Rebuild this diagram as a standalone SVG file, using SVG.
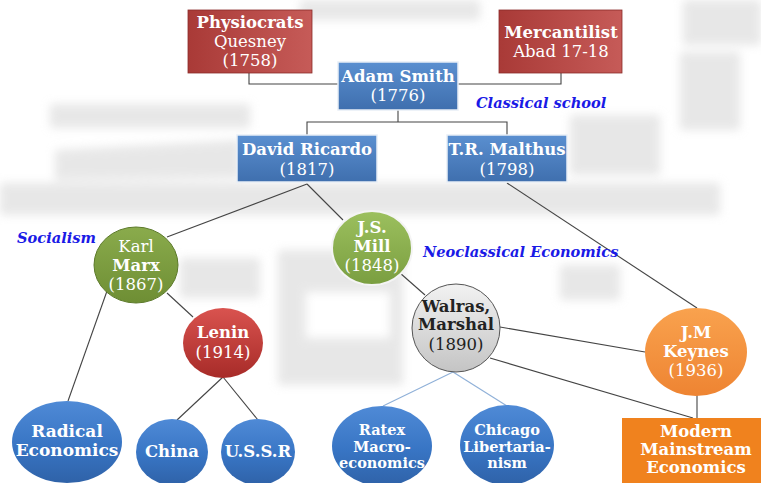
<svg xmlns="http://www.w3.org/2000/svg" width="761" height="483" viewBox="0 0 761 483">
<defs>
<filter id="soft" x="-10%" y="-10%" width="120%" height="120%"><feGaussianBlur stdDeviation="5"/></filter>
<linearGradient id="gRed" x1="0" y1="0" x2="1" y2="0"><stop offset="0" stop-color="#a93a37"/><stop offset="1" stop-color="#c65b58"/></linearGradient>
<linearGradient id="gBlueBox" x1="0" y1="0" x2="0" y2="1"><stop offset="0" stop-color="#5a8fd0"/><stop offset="1" stop-color="#3f6fae"/></linearGradient>
<linearGradient id="gBlueOv" x1="0" y1="0" x2="0" y2="1"><stop offset="0" stop-color="#4f8ad6"/><stop offset="0.55" stop-color="#3875c4"/><stop offset="1" stop-color="#2f62a8"/></linearGradient>
<linearGradient id="gGreen" x1="0" y1="0" x2="0" y2="1"><stop offset="0" stop-color="#8aab4c"/><stop offset="1" stop-color="#6e8e34"/></linearGradient>
<linearGradient id="gGreen2" x1="0" y1="0" x2="0" y2="1"><stop offset="0" stop-color="#9cc05e"/><stop offset="1" stop-color="#7a9e40"/></linearGradient>
<linearGradient id="gRedC" x1="0" y1="0" x2="0" y2="1"><stop offset="0" stop-color="#d9534f"/><stop offset="1" stop-color="#a72b28"/></linearGradient>
<linearGradient id="gGray" x1="0" y1="0" x2="0" y2="1"><stop offset="0" stop-color="#f2f2f2"/><stop offset="1" stop-color="#c4c4c4"/></linearGradient>
<linearGradient id="gOrange" x1="0" y1="0" x2="0" y2="1"><stop offset="0" stop-color="#f9a24e"/><stop offset="1" stop-color="#ee8432"/></linearGradient>
</defs>
<style>
text{font-family:"DejaVu Serif","Liberation Serif",serif;text-anchor:middle;fill:#fff;font-size:16.5px}
.b{font-weight:bold}
.dk{fill:#222}
.sm{font-size:14.5px}
.lg{font-size:17px}
.lbl{font-family:"DejaVu Serif","Liberation Serif",serif;font-weight:bold;font-style:italic;fill:#1a1ae6;text-anchor:start;font-size:14.6px}
.con line,.con polyline{stroke:#444;stroke-width:1.1;fill:none}
.con .lb{stroke:#8fb0d8}
.wm path,.wm rect{fill:#d0d0d0}
</style>
<g class="wm" id="watermark" opacity="0.5" filter="url(#soft)">
<rect x="0" y="183" width="720" height="32"/>
<rect x="50" y="104" width="200" height="24"/>
<path d="M55 150 L240 140 L240 178 L55 180 Z"/>
<path fill-rule="evenodd" d="M278 250 H403 V385 H278 Z M306 292 H390 V338 H306 Z"/>
<rect x="180" y="258" width="80" height="40"/>
<rect x="683" y="0" width="78" height="45"/>
<rect x="680" y="52" width="60" height="78"/>
<rect x="570" y="115" width="90" height="60"/>
<rect x="560" y="265" width="60" height="35"/>
<rect x="300" y="0" width="180" height="20"/>
</g>
<g class="con" id="connectors">
<polyline points="249,73 249,84 338,84"/>
<polyline points="561,73 561,84 458,84"/>
<polyline points="398,110 398,122"/>
<polyline points="307,135 307,122 507,122 507,135"/>
<line x1="307" y1="184" x2="167" y2="237"/>
<line x1="307" y1="184" x2="343" y2="220"/>
<line x1="507" y1="183" x2="697" y2="308"/>
<line x1="167" y1="293" x2="193" y2="317"/>
<line x1="107" y1="291" x2="68" y2="401"/>
<line x1="223" y1="377" x2="177" y2="420"/>
<line x1="223" y1="377" x2="258" y2="420"/>
<line x1="400" y1="273" x2="425" y2="295"/>
<line x1="500" y1="327" x2="645" y2="352"/>
<line x1="490" y1="358" x2="693" y2="418"/>
<line x1="697" y1="394" x2="697" y2="418"/>
<line class="lb" x1="453" y1="372" x2="383" y2="406"/>
<line class="lb" x1="453" y1="372" x2="507" y2="406"/>
</g>
<g id="physiocrats">
<rect x="188" y="10" width="124" height="63" fill="url(#gRed)" stroke="#8a2c2a" stroke-width="0.8"/>
<text x="250" y="28" class="b">Physiocrats</text>
<text x="250" y="47">Quesney</text>
<text x="250" y="66">(1758)</text>
</g>
<g id="mercantilist">
<rect x="499" y="10" width="123" height="63" fill="url(#gRed)" stroke="#8a2c2a" stroke-width="0.8"/>
<text x="561" y="38" class="b">Mercantilist</text>
<text x="561" y="57">Abad 17-18</text>
</g>
<g id="adamsmith">
<rect x="338" y="62" width="120" height="48" fill="url(#gBlueBox)" stroke="#e8eef6" stroke-width="1.5"/>
<text x="398" y="82" class="b">Adam Smith</text>
<text x="398" y="101">(1776)</text>
</g>
<text class="lbl" x="476" y="108">Classical school</text>
<g id="ricardo">
<rect x="237" y="135" width="140" height="47" fill="url(#gBlueBox)" stroke="#e8eef6" stroke-width="1.5"/>
<text x="307" y="155" class="b">David Ricardo</text>
<text x="307" y="175">(1817)</text>
</g>
<g id="malthus">
<rect x="447" y="135" width="120" height="47" fill="url(#gBlueBox)" stroke="#e8eef6" stroke-width="1.5"/>
<text x="507" y="155" class="b">T.R. Malthus</text>
<text x="507" y="175">(1798)</text>
</g>
<text class="lbl" x="17" y="243">Socialism</text>
<g id="marx">
<ellipse cx="136" cy="265" rx="42" ry="38" fill="url(#gGreen)" stroke="#5c7a2a" stroke-width="1"/>
<text x="136" y="252">Karl</text>
<text x="136" y="271" class="b">Marx</text>
<text x="136" y="290">(1867)</text>
</g>
<g id="mill">
<ellipse cx="372" cy="248" rx="40" ry="37" fill="url(#gGreen2)" stroke="#f4f4f4" stroke-width="2"/>
<text x="372" y="233" class="b">J.S.</text>
<text x="372" y="252" class="b">Mill</text>
<text x="372" y="271">(1848)</text>
</g>
<text class="lbl" x="423" y="257">Neoclassical Economics</text>
<g id="lenin">
<ellipse cx="223" cy="343" rx="40" ry="35" fill="url(#gRedC)"/>
<text x="223" y="338" class="b">Lenin</text>
<text x="223" y="358">(1914)</text>
</g>
<g id="walras">
<ellipse cx="456" cy="328" rx="44" ry="44" fill="url(#gGray)" stroke="#555" stroke-width="1"/>
<text x="456" y="312" class="b dk">Walras,</text>
<text x="456" y="330" class="b dk">Marshal</text>
<text x="456" y="350" class="dk">(1890)</text>
</g>
<g id="keynes">
<ellipse cx="696" cy="352" rx="51" ry="44" fill="url(#gOrange)"/>
<text x="696" y="338" class="b">J.M</text>
<text x="696" y="357" class="b">Keynes</text>
<text x="696" y="376">(1936)</text>
</g>
<g id="radical">
<ellipse cx="67" cy="442" rx="55" ry="41" fill="url(#gBlueOv)"/>
<text x="67" y="437" class="b lg">Radical</text>
<text x="67" y="456" class="b lg">Economics</text>
</g>
<g id="china">
<ellipse cx="172" cy="452" rx="36" ry="33" fill="url(#gBlueOv)"/>
<text x="172" y="457" class="b">China</text>
</g>
<g id="ussr">
<ellipse cx="258" cy="452" rx="37" ry="33" fill="url(#gBlueOv)"/>
<text x="258" y="457" class="b">U.S.S.R</text>
</g>
<g id="ratex">
<ellipse cx="382" cy="446" rx="50" ry="40" fill="url(#gBlueOv)"/>
<text x="382" y="435" class="b sm">Ratex</text>
<text x="382" y="452" class="b sm">Macro-</text>
<text x="382" y="468" class="b sm">economics</text>
</g>
<g id="chicago">
<ellipse cx="507" cy="445" rx="47" ry="40" fill="url(#gBlueOv)"/>
<text x="507" y="435" class="b sm">Chicago</text>
<text x="507" y="452" class="b sm">Libertaria-</text>
<text x="507" y="468" class="b sm">nism</text>
</g>
<g id="modern">
<rect x="622" y="418" width="139" height="65" fill="#f0821e"/>
<text x="696" y="437" class="b">Modern</text>
<text x="696" y="455" class="b">Mainstream</text>
<text x="696" y="473" class="b">Economics</text>
</g>
</svg>
